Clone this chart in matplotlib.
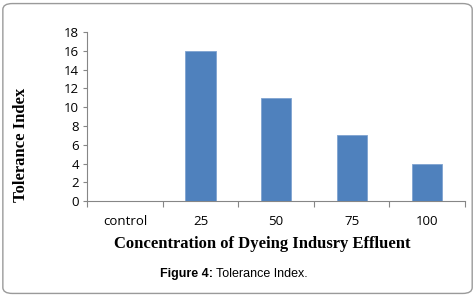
import matplotlib.pyplot as plt
import numpy as np
from matplotlib.patches import FancyBboxPatch

# Data
categories = ["control", "25", "50", "75", "100"]
tolerance = [0, 16, 11, 7, 4]
y_ticks = [0, 2, 4, 6, 8, 10, 12, 14, 16, 18]

fig = plt.figure(figsize=(4.76, 2.97), dpi=100)
ax = fig.add_axes([0.183, 0.323, 0.794, 0.569])

x = np.arange(len(categories))
ax.bar(x, tolerance, width=0.4, color="#4F81BD", edgecolor="#7FA3D0", linewidth=0.6, zorder=3)

ax.set_xlim(-0.5, len(categories) - 0.5)
ax.set_ylim(0, 18)
ax.set_yticks(y_ticks)
ax.set_xticks(x)
ax.set_xticklabels(categories)
ax.set_xticks(np.arange(-0.5, len(categories)), minor=True)

for s in ["top", "right"]:
    ax.spines[s].set_visible(False)
for s in ["left", "bottom"]:
    ax.spines[s].set_color("#868686")
    ax.spines[s].set_linewidth(0.8)

ax.tick_params(axis="x", which="major", length=0, pad=10, labelsize=9.5)
ax.tick_params(axis="x", which="minor", length=4, color="#868686", width=0.8)
ax.tick_params(axis="y", length=3, color="#868686", width=0.8, labelsize=9.5, pad=3)
for lab in ax.get_xticklabels() + ax.get_yticklabels():
    lab.set_family("Open Sans")

ax.set_ylabel("Tolerance Index", family="Liberation Serif", fontweight="bold", fontsize=12)
ax.yaxis.set_label_coords(-0.153, 0.33)
ax.set_xlabel("Concentration of Dyeing Indusry Effluent", family="Liberation Serif",
              fontweight="bold", fontsize=12)
ax.xaxis.set_label_coords(0.463, -0.205)

# Caption
cap = fig.text(0.336, 0.076, "Figure 4:", family="Liberation Sans", fontweight="bold", fontsize=9,
               ha="left", va="center")
ax.annotate("Tolerance Index.", xy=(1, 0.5), xycoords=cap, xytext=(2.5, 0),
            textcoords="offset points", family="Liberation Sans", fontsize=9,
            ha="left", va="center", annotation_clip=False)

# Rounded frame around the figure
frame = FancyBboxPatch((0.006, 0.012), 0.986, 0.976, boxstyle="round,pad=0,rounding_size=0.02",
                       transform=fig.transFigure, facecolor="none", edgecolor="#9A9A9A", linewidth=1.0)
fig.patches.append(frame)

plt.savefig("out.png", dpi=100)
